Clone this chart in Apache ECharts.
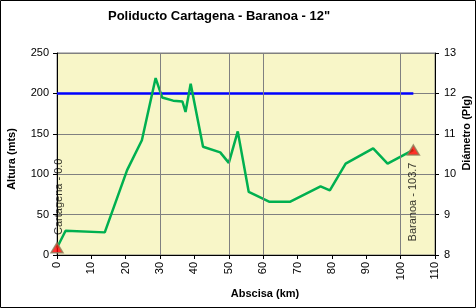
<!DOCTYPE html>
<html><head><meta charset="utf-8">
<script src="https://cdn.jsdelivr.net/npm/echarts@6/dist/echarts.min.js"></script>
<style>html,body{margin:0;padding:0;background:#fff}#c{width:476px;height:308px}</style>
</head><body><div id="c"></div>
<script>
// Elevation profile (km, metres)
const profileKm  = [0, 2.5, 13.9, 20.4, 24.7, 28.7, 30.6, 33.8, 36.5, 37.4, 38.9, 42.5, 47.5, 50.0, 52.6, 55.8, 61.7, 67.9, 76.7, 79.4, 84.0, 92.0, 96.2, 103.7];
const profileAlt = [9, 30, 28, 105, 142, 219, 195, 191, 190, 177, 212, 134, 127, 114, 153, 78, 66, 66, 85, 80, 113, 132, 113, 130];
// Pipe diameter (inches)
const diameterKm = [0, 103.7];
const diameterIn = [12, 12];
// Stations
const stationNames = ["Cartagena", "Baranoa"];
const stationKm  = [0, 103.7];
const stationAlt = [9, 130];
// Vertical grid lines present in the reference
const vGridKm = [30, 50, 60, 100];

const font = "Liberation Sans, Arial, sans-serif";
const chart = echarts.init(document.getElementById('c'), null, {renderer: 'canvas'});
const labelOffsets = [[51, 2], [-52, 0]];
chart.setOption({
  animation: false,
  backgroundColor: '#ffffff',
  title: {
    text: 'Poliducto Cartagena - Baranoa - 12"',
    left: 108, top: 10, padding: 0,
    textStyle: {fontFamily: font, fontSize: 13, fontWeight: 'bold', color: '#000'}
  },
  graphic: [{type: 'rect', shape: {x: 0.5, y: 0.5, width: 475, height: 307}, style: {fill: 'none', stroke: '#000', lineWidth: 1}, silent: true}],
  grid: {left: 57, right: 41, top: 53, bottom: 53, containLabel: false, outerBoundsMode: 'none', show: true, backgroundColor: '#F8F6C8', borderColor: '#808080', borderWidth: 1},
  xAxis: {
    type: 'value', min: 0, max: 110, interval: 10,
    name: 'Abscisa (km)', nameLocation: 'middle', nameGap: 32,
    nameTextStyle: {fontFamily: font, fontSize: 11, fontWeight: 'bold', color: '#000', padding: [0, 0, 0, 38]},
    axisLine: {show: true, onZero: false, lineStyle: {color: '#000', width: 1}},
    axisTick: {show: true, length: 4, lineStyle: {color: '#000'}},
    axisLabel: {rotate: 90, margin: 7, fontFamily: font, fontSize: 11, color: '#000'},
    splitLine: {show: false}
  },
  yAxis: [{
    type: 'value', min: 0, max: 250, interval: 50,
    name: 'Altura (mts)', nameLocation: 'middle', nameGap: 40,
    nameTextStyle: {fontFamily: font, fontSize: 11, fontWeight: 'bold', color: '#000', padding: [0, 10, 0, 0]},
    axisLine: {show: true, lineStyle: {color: '#000', width: 1}},
    axisTick: {show: true, length: 4, lineStyle: {color: '#000'}},
    axisLabel: {margin: 8, fontFamily: font, fontSize: 11, color: '#000'},
    splitLine: {show: true, lineStyle: {color: '#808080', width: 1}}
  }, {
    type: 'value', min: 8, max: 13, interval: 1, position: 'right',
    name: 'Diámetro (Plg)', nameLocation: 'middle', nameGap: 26, nameMoveOverlap: false,
    nameTextStyle: {fontFamily: font, fontSize: 11, fontWeight: 'bold', color: '#000', padding: [0, 0, 0, 42]},
    axisLine: {show: true, lineStyle: {color: '#000', width: 1}},
    axisTick: {show: true, length: 4, lineStyle: {color: '#000'}},
    axisLabel: {margin: 9, fontFamily: font, fontSize: 11, color: '#000'},
    splitLine: {show: false}
  }],
  series: [{
    type: 'line', name: 'Altura', yAxisIndex: 0, silent: true,
    data: profileKm.map((k, i) => [k, profileAlt[i]]),
    showSymbol: false, symbol: 'none',
    lineStyle: {color: '#00B050', width: 2.5},
    markLine: {
      silent: true, symbol: 'none', label: {show: false},
      lineStyle: {color: '#808080', width: 1, type: 'solid'},
      data: vGridKm.map(v => ({xAxis: v}))
    },
    z: 3
  }, {
    type: 'line', name: 'Diámetro', yAxisIndex: 1, silent: true,
    data: diameterKm.map((k, i) => [k, diameterIn[i]]),
    showSymbol: false, symbol: 'none',
    lineStyle: {color: '#0000FF', width: 2.5},
    z: 2
  }, {
    type: 'scatter', name: 'Estaciones', yAxisIndex: 0, silent: true,
    symbol: 'triangle', symbolSize: [12, 10],
    itemStyle: {color: '#FF0000', borderColor: '#8C7E5A', borderWidth: 1.5},
    data: stationKm.map((k, i) => ({
      value: [k, stationAlt[i]],
      label: {
        show: true, position: 'inside', rotate: 90, offset: labelOffsets[i],
        align: 'center', verticalAlign: 'middle',
        formatter: stationNames[i] + ' - ' + k.toFixed(1),
        fontFamily: font, fontSize: 11, color: '#000'
      }
    })),
    z: 5
  }]
});
</script></body></html>
